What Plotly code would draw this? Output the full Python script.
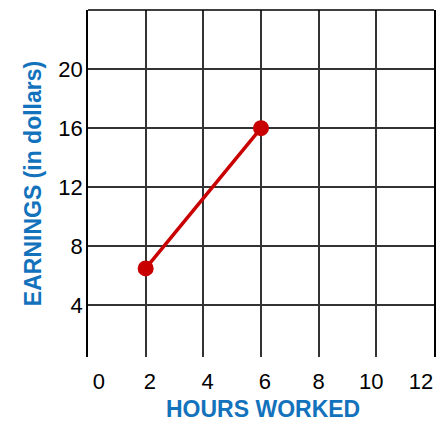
import plotly.graph_objects as go

# Data
hours = [2, 6]
earnings = [6.5, 16]

x_grid = [0, 2, 4, 6, 8, 10, 12]
x_tick_text = ["0", "2", "4", "6", "8", "10", "12"]
y_grid = [4, 8, 12, 16, 20, 24]
y_tick_text = ["4", "8", "12", "16", "20", ""]

# label positions of x tick labels (drawn slightly offset from grid in the original)
x_label_pos = [0.38, 2.15, 4.15, 6.13, 8.0, 9.82, 11.55]

x_title = "HOURS WORKED"
y_title = "EARNINGS (in dollars)"

BLUE = "#1272bc"
RED = "#c80000"
GRID = "#333333"

fig = go.Figure()
fig.add_trace(go.Scatter(
    x=hours, y=earnings, mode="lines+markers",
    line=dict(color=RED, width=3.5),
    marker=dict(color=RED, size=16),
    showlegend=False, hoverinfo="skip",
))

fig.update_layout(
    width=439, height=422,
    margin=dict(l=88, r=5, t=10, b=65),
    paper_bgcolor="white", plot_bgcolor="white",
    font=dict(family="Liberation Sans, Arial, sans-serif", color="black"),
    xaxis=dict(
        range=[0, 12], showline=False, zeroline=False, automargin=False,
        tickmode="array", tickvals=x_label_pos, ticktext=x_tick_text,
        showgrid=False, ticks="",
        tickfont=dict(size=22, color="black"),
        ticklabelstandoff=9,
        minor=dict(tickmode="array", tickvals=x_grid, showgrid=True,
                   gridcolor=GRID, gridwidth=1.5, ticks=""),
        fixedrange=True,
    ),
    yaxis=dict(
        range=[0.5, 24], showline=True, mirror=True, linecolor="black", linewidth=1.5,
        zeroline=False, automargin=False,
        tickmode="array", tickvals=y_grid, ticktext=y_tick_text,
        showgrid=True, gridcolor=GRID, gridwidth=1.5, ticks="",
        tickfont=dict(size=22, color="black"),
        ticklabelstandoff=-1,
        title=dict(text="<b>" + y_title + "</b>", font=dict(size=23, color=BLUE), standoff=10),
        fixedrange=True,
    ),
    annotations=[dict(text="<b>" + x_title + "</b>", xref="paper", yref="paper",
                      x=0.505, y=-0.150, xanchor="center", yanchor="middle",
                      borderpad=0, showarrow=False, font=dict(size=23, color=BLUE))],
    shapes=[dict(type="line", xref="paper", yref="paper", x0=0, x1=1, y0=1, y1=1,
                 line=dict(color="black", width=1.5), layer="above")],
)

fig.write_html("out.html", config={"displayModeBar": False},
               post_script="document.body.style.margin='0';document.body.style.overflow='hidden';")
